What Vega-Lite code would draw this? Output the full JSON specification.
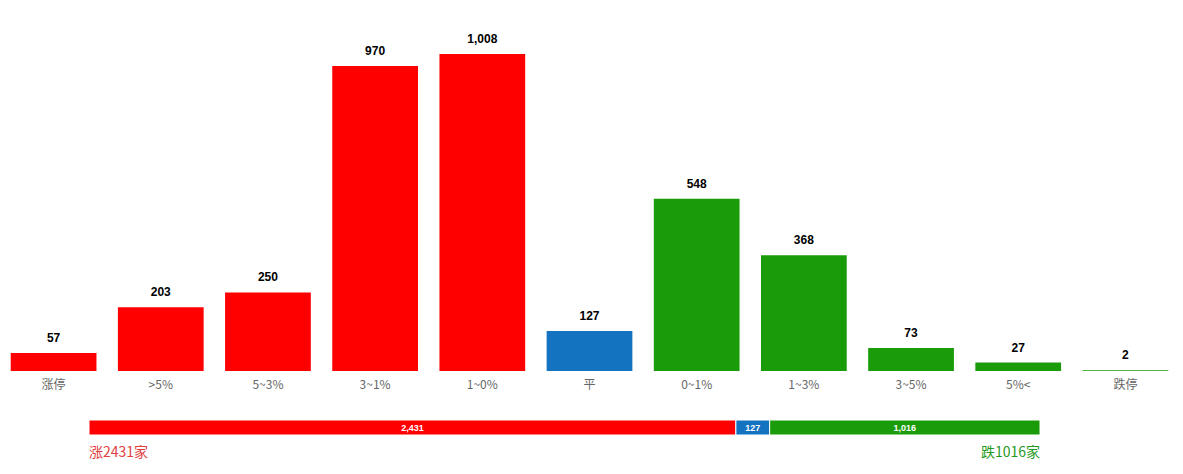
{
  "$schema": "https://vega.github.io/schema/vega-lite/v6.json",
  "padding": 0,
  "autosize": {"type": "pad"},
  "background": "white",
  "spacing": 29,
  "config": {"view": {"stroke": null}, "font": "Noto Sans CJK SC"},
  "datasets": {
    "dist": [
      {"cat": "涨停", "n": 57, "grp": "up"},
      {"cat": ">5%", "n": 203, "grp": "up"},
      {"cat": "5~3%", "n": 250, "grp": "up"},
      {"cat": "3~1%", "n": 970, "grp": "up"},
      {"cat": "1~0%", "n": 1008, "grp": "up"},
      {"cat": "平", "n": 127, "grp": "flat"},
      {"cat": "0~1%", "n": 548, "grp": "down"},
      {"cat": "1~3%", "n": 368, "grp": "down"},
      {"cat": "3~5%", "n": 73, "grp": "down"},
      {"cat": "5%<", "n": 27, "grp": "down"},
      {"cat": "跌停", "n": 2, "grp": "down"}
    ],
    "total": [
      {"seg": "up", "n": 2431, "label": "涨2431家"},
      {"seg": "flat", "n": 127, "label": "平127家"},
      {"seg": "down", "n": 1016, "label": "跌1016家"}
    ]
  },
  "vconcat": [
    {
      "width": 1179,
      "height": 371,
      "data": {"name": "dist"},
      "encoding": {
        "x": {
          "field": "cat", "type": "nominal", "sort": null,
          "scale": {"paddingInner": 0.2, "paddingOuter": 0.1},
          "axis": {"title": null, "domain": false, "ticks": false, "labelAngle": 0, "labelColor": "#666666", "labelFontSize": 12, "labelPadding": 8, "labelFont": "Noto Sans CJK SC"}
        },
        "y": {"field": "n", "type": "quantitative", "scale": {"domain": [0, 1180], "nice": false}, "axis": null}
      },
      "layer": [
        {
          "mark": {"type": "bar"},
          "encoding": {
            "color": {"field": "grp", "type": "nominal", "scale": {"domain": ["up", "flat", "down"], "range": ["#ff0000", "#1373c0", "#1a9c0a"]}, "legend": null}
          }
        },
        {
          "mark": {"type": "text", "baseline": "alphabetic", "dy": -11, "fontWeight": "bold", "fontSize": 12, "font": "Liberation Sans", "color": "#000000"},
          "encoding": {"text": {"field": "n", "type": "quantitative", "format": ","}}
        }
      ]
    },
    {
      "width": 1179,
      "height": 40,
      "data": {"name": "total"},
      "resolve": {"scale": {"color": "independent"}},
      "layer": [
        {
          "mark": {"type": "bar", "stroke": "white", "strokeWidth": 1},
          "encoding": {
            "x": {"field": "n", "type": "quantitative", "stack": "zero", "scale": {"domain": [-334.5, 4096.3], "nice": false, "zero": false}, "axis": null},
            "y": {"datum": "bar", "type": "nominal", "scale": {"domain": ["bar", "text"], "paddingInner": 0.4, "paddingOuter": 0}, "axis": null},
            "color": {"field": "seg", "type": "nominal", "scale": {"domain": ["up", "flat", "down"], "range": ["#ff0000", "#1373c0", "#1a9c0a"]}, "legend": null},
            "order": {"field": "seg", "sort": "descending"}
          }
        },
        {
          "mark": {"type": "text", "fontWeight": "bold", "fontSize": 9, "font": "Liberation Sans", "baseline": "middle", "align": "center"},
          "encoding": {
            "x": {"field": "n", "type": "quantitative", "stack": "zero", "bandPosition": 0.5},
            "y": {"datum": "bar", "type": "nominal"},
            "text": {"field": "n", "type": "quantitative", "format": ","},
            "color": {"field": "seg", "type": "nominal", "scale": {"domain": ["up", "flat", "down"], "range": ["#ffffff", "#ffffff", "#ffffff"]}, "legend": null},
            "order": {"field": "seg", "sort": "descending"}
          }
        },
        {
          "transform": [{"filter": "datum.seg === 'up'"}],
          "mark": {"type": "text", "fontSize": 14, "align": "left", "baseline": "middle", "color": "#e0403f", "font": "Noto Sans CJK SC"},
          "encoding": {
            "x": {"datum": 0, "type": "quantitative"},
            "y": {"datum": "text", "type": "nominal"},
            "text": {"field": "label"}
          }
        },
        {
          "transform": [{"filter": "datum.seg === 'down'"}],
          "mark": {"type": "text", "fontSize": 14, "align": "right", "baseline": "middle", "color": "#1f9a22", "font": "Noto Sans CJK SC"},
          "encoding": {
            "x": {"datum": 3574, "type": "quantitative"},
            "y": {"datum": "text", "type": "nominal"},
            "text": {"field": "label"}
          }
        }
      ]
    }
  ]
}
